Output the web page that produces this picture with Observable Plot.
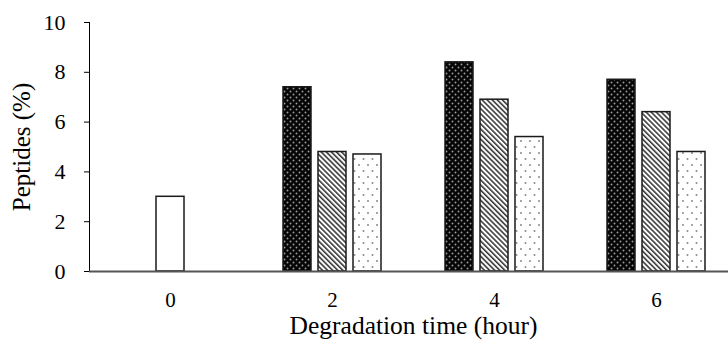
<!DOCTYPE html>
<html>
<head>
<meta charset="utf-8">
<script src="https://cdn.jsdelivr.net/npm/d3@7"></script>
<script src="https://cdn.jsdelivr.net/npm/@observablehq/plot@0.6"></script>
<style>
  html, body { margin: 0; padding: 0; background: #fff; }
  #chart svg { display: block; overflow: visible; }
  g[aria-label="fx-axis tick label"] text { font-size: 21px; }
  g[aria-label="fx-axis label"] text { font-size: 25.5px; }
  g[aria-label="y-axis label"] text { font-size: 25px; }
</style>
</head>
<body>
<div id="chart"></div>
<script>
// ---- data ----
const times = ["0", "2", "4", "6"];          // degradation time (hour)
const slots = ["A", "B", "C"];              // bar slot within each time group
const controlTime = "0";
const controlValue = 3.0;                   // single open bar at time 0
const groupTimes = ["2", "4", "6"];
const seriesDark = [7.4, 8.4, 7.7];         // black dotted bars
const seriesHatch = [4.8, 6.9, 6.4];        // diagonal hatched bars
const seriesDots = [4.7, 5.4, 4.8];         // white dotted bars
const yTicks = [0, 2, 4, 6, 8, 10];

// ---- table for the library ----
const rows = [{time: controlTime, slot: "B", value: controlValue, fill: "white"}];
groupTimes.forEach((t, i) => {
  rows.push({time: t, slot: "A", value: seriesDark[i], fill: "url(#patDark)"});
  rows.push({time: t, slot: "B", value: seriesHatch[i], fill: "url(#patHatch)"});
  rows.push({time: t, slot: "C", value: seriesDots[i], fill: "url(#patDots)"});
});

const plot = Plot.plot({
  width: 728,
  height: 345,
  marginLeft: 88,
  marginRight: -9,
  marginTop: 22,
  marginBottom: 74,
  style: {fontFamily: "'Liberation Serif', 'Times New Roman', serif", fontSize: "22px", background: "white", color: "black", overflow: "visible"},
  color: {type: "identity"},
  fx: {domain: times, padding: 0, axis: "bottom", tickSize: 0, tickPadding: 21,
       label: "Degradation time (hour)", labelAnchor: "center", labelOffset: 62, labelArrow: false},
  x: {domain: slots, paddingInner: 0.194, paddingOuter: 0.85, axis: null},
  y: {domain: [0, 10], ticks: yTicks, tickSize: 5, tickPadding: 19,
      label: "Peptides (%)", labelAnchor: "center", labelOffset: 77, labelArrow: false, line: true},
  marks: [
    Plot.barY(rows, {fx: "time", x: "slot", y: "value", fill: "fill", stroke: "#1a1a1a", strokeWidth: 1.5}),
    Plot.ruleY([0], {stroke: "#555", strokeWidth: 2})
  ]
});

const defs = d3.select(plot).insert("defs", ":first-child");
defs.html(`
  <pattern id="patDark" patternUnits="userSpaceOnUse" width="6" height="6">
    <rect width="6" height="6" fill="#050505"/>
    <circle cx="1.5" cy="1.5" r="0.95" fill="#9a9a9a"/>
    <circle cx="4.5" cy="4.5" r="0.95" fill="#9a9a9a"/>
  </pattern>
  <pattern id="patHatch" patternUnits="userSpaceOnUse" width="3.6" height="3.6" patternTransform="rotate(-45)">
    <rect width="3.6" height="3.6" fill="white"/>
    <rect width="1.6" height="3.6" fill="#3a3a3a"/>
  </pattern>
  <pattern id="patDots" patternUnits="userSpaceOnUse" width="9" height="12">
    <rect width="9" height="12" fill="white"/>
    <circle cx="2.5" cy="3" r="1" fill="#888"/>
    <circle cx="7" cy="9" r="1" fill="#888"/>
  </pattern>
`);

document.getElementById("chart").appendChild(plot);
</script>
</body>
</html>
